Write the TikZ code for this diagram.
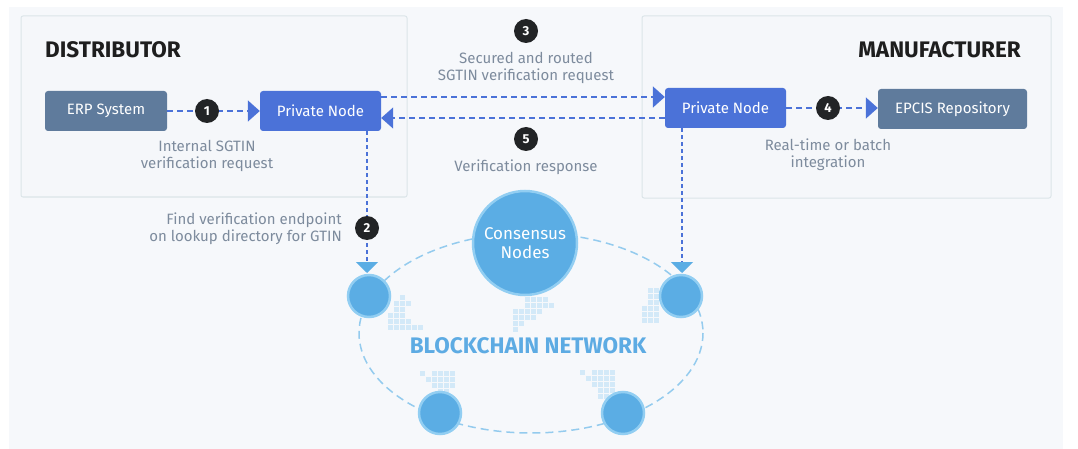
\documentclass[tikz,border=0pt]{standalone}
\usepackage{fontspec}
\setmainfont{Fira Sans}
\usetikzlibrary{arrows.meta}
\definecolor{bg}{HTML}{F6F8FB}
\definecolor{grpline}{HTML}{DCE5E9}
\definecolor{grpfill}{HTML}{F5F7FA}
\definecolor{slate}{HTML}{5F7B9C}
\definecolor{royal}{HTML}{4B72D8}
\definecolor{badgec}{HTML}{222426}
\definecolor{graytxt}{HTML}{7D8B9D}
\definecolor{nodeblue}{HTML}{5BADE4}
\definecolor{ringblue}{HTML}{92CEF2}
\definecolor{ellc}{HTML}{94CBEE}
\definecolor{mosc}{HTML}{D3E9F8}
\definecolor{titlec}{HTML}{1E1E1E}
\definecolor{netc}{HTML}{5DABE3}
\tikzset{
  group/.style={draw=grpline, fill=grpfill, line width=1pt, rounded corners=2pt},
  titletxt/.style={font=\fontsize{22.5}{26}\selectfont\bfseries, text=titlec, inner sep=0pt},
  sysbox/.style={fill=slate, rounded corners=3pt, minimum width=122pt, minimum height=40pt, inner sep=0pt, text=white, font=\fontsize{15}{17}\selectfont},
  pnbox/.style={fill=royal, rounded corners=3pt, minimum width=121pt, minimum height=40pt, inner sep=0pt, text=white, font=\fontsize{15}{17}\selectfont},
  badge/.style={circle, fill=badgec, minimum size=24pt, inner sep=0pt, text=white, font=\fontsize{13}{13}\selectfont\bfseries},
  lbl/.style={text=graytxt, align=center, inner sep=0pt, font=\fontsize{15}{17}\selectfont},
  flow/.style={draw=royal, line width=1.6pt, dash pattern=on 6pt off 4pt, -{Triangle[length=12pt, width=21pt, fill=royal]}},
  downflow/.style={draw=royal, line width=1.5pt, dash pattern=on 4pt off 3pt, -{Triangle[length=11pt, width=22pt, color=nodeblue, fill=nodeblue]}},
  netnode/.style={circle, fill=nodeblue, draw=ringblue, line width=2.5pt, minimum size=42pt, inner sep=0pt},
  ringline/.style={draw=ellc, line width=1.5pt, dash pattern=on 8pt off 5pt},
  mos/.style={fill=mosc}
}
\newcommand{\mymosaic}[3]{%
  \foreach \c/\r in {#3} {\fill[mos] ({#1+6*\c},{#2+6*\r}) rectangle ++(4.6,4.6);}%
}
\begin{document}
\begin{tikzpicture}[x=1pt,y=-1pt]
\useasboundingbox (0,0) rectangle (1078,449);
\fill[white] (0,0) rectangle (1078,449);
\fill[bg] (9,7) rectangle (1063,449);
% groups
\draw[group] (21,16) rectangle (407,197);
\draw[group] (642,16) rectangle (1051,198);
\node[titletxt, anchor=west] (dt) at (45,49.5) {DISTRIBUTOR};
\node[titletxt, anchor=east] (mt) at (1021,50) {MANUFACTURER};
% boxes
\node[sysbox] (erp) at (106,111) {ERP System};
\node[pnbox] (pn1) at (320.5,111) {Private Node};
\node[pnbox] (pn2) at (725.5,108) {Private Node};
\node[sysbox, minimum width=149pt] (epcis) at (952.5,109) {EPCIS Repository};
% horizontal flows
\draw[flow] (erp.east) -- (pn1.west);
\draw[flow] ([yshift=14pt]pn1.east) -- ([yshift=14pt]pn1.east -| pn2.west);
\draw[flow] ([yshift=-10pt]pn2.west) -- ([yshift=-10pt]pn2.west -| pn1.east);
\draw[flow] (pn2.east) -- (pn2.east -| epcis.west);
% network ring
\draw[ringline] (531,333) ellipse [x radius=172, y radius=100];
% mosaics
\mymosaic{388}{295}{2/0,1/1,2/1,3/1,1/2,2/2,0/3,1/3,2/3,0/4,1/4,2/4,3/4,0/5,1/5,2/5,3/5,4/5,5/5}
\mymosaic{513}{297}{2/0,3/0,4/0,5/0,2/1,3/1,4/1,5/1,6/1,0/2,1/2,2/2,3/2,4/2,0/3,1/3,2/3,3/3,0/4,1/4,0/5}
\mymosaic{642}{288}{1/0,2/0,1/1,2/1,1/2,2/2,0/3,1/3,2/3,0/4,1/4,2/4,0/5,1/5,2/5}
\mymosaic{420}{371}{0/0,2/0,3/0,4/0,5/0,1/1,2/1,3/1,4/1,5/1,2/2,3/2,4/2,5/2,3/3,4/3,3/4}
\mymosaic{580}{370}{0/0,2/0,3/0,4/0,5/0,1/1,2/1,3/1,4/1,5/1,2/2,3/2,4/2,5/2,3/3,4/3,5/3,3/4,4/4}
% network nodes
\node[netnode] (n1) at (369,296) {};
\node[netnode] (n2) at (681,296) {};
\node[netnode] (n3) at (440,413) {};
\node[netnode] (n4) at (623,413) {};
\node[netnode, minimum size=104pt, align=center, text=white, font=\fontsize{17}{19}\selectfont] (cn) at (525,243) {Consensus\\Nodes};
\node[text=netc, inner sep=0pt, font=\fontsize{22.5}{26}\selectfont\bfseries] (bn) at (528,346) {BLOCKCHAIN NETWORK};
% down flows
\coordinate (t1) at (367,273);
\coordinate (t2) at (682,273);
\draw[downflow] (t1 |- pn1.south) -- (t1);
\draw[downflow] (t2 |- pn2.south) -- (t2);
% badges
\node[badge] (b1) at (207,111) {1};
\node[badge] (b2) at (367,228) {2};
\node[badge] (b3) at (526,31) {3};
\node[badge] (b4) at (828,108) {4};
\node[badge] (b5) at (526,139) {5};
% labels
\node[lbl] (l1) at (207,155.5) {Internal SGTIN\\verification request};
\node[lbl] (l3) at (526,67.5) {Secured and routed\\SGTIN verification request};
\node[lbl] (l5) at (526,167) {Verification response};
\node[lbl] (l4) at (828,154.5) {Real-time or batch\\integration};
\node[lbl, anchor=east, align=right] (l2) at (342,229) {Find verification endpoint\\on lookup directory for GTIN};
\end{tikzpicture}
\end{document}
